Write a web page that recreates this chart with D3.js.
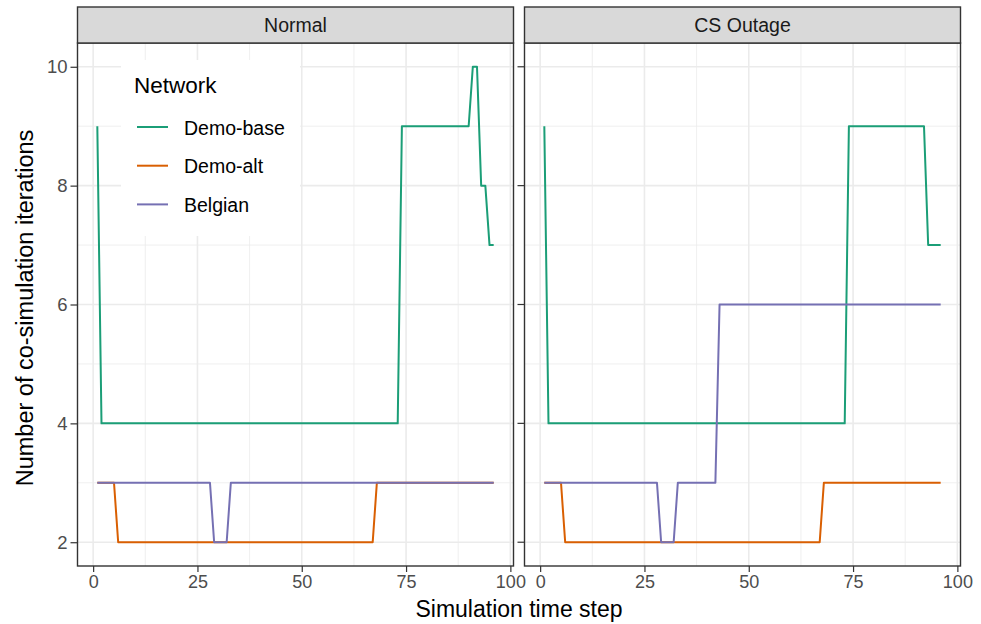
<!DOCTYPE html>
<html>
<head>
<meta charset="utf-8">
<script src="https://cdn.jsdelivr.net/npm/d3@7"></script>
<style>
    body { margin: 0; background: #fff; }
    text { font-family: "Liberation Sans", Arial, sans-serif; }
</style>
</head>
<body>
<svg id="chart" width="981" height="624"></svg>
<script>
// 資料: [時間步, 迭代次數] 折點
const panels = ["Normal", "CS Outage"];
const networks = ["Demo-base", "Demo-alt", "Belgian"];
const colors = ["#1B9E77", "#D95F02", "#7570B3"];

const normalBase = [[1, 9], [2, 4], [73, 4], [74, 9], [90, 9], [91, 10], [92, 10], [93, 8], [94, 8], [95, 7], [96, 7]];
const normalAlt = [[1, 3], [5, 3], [6, 2], [67, 2], [68, 3], [96, 3]];
const normalBelgian = [[1, 3], [28, 3], [29, 2], [32, 2], [33, 3], [96, 3]];

const outageBase = [[1, 9], [2, 4], [73, 4], [74, 9], [92, 9], [93, 7], [96, 7]];
const outageAlt = [[1, 3], [5, 3], [6, 2], [67, 2], [68, 3], [96, 3]];
const outageBelgian = [[1, 3], [28, 3], [29, 2], [32, 2], [33, 3], [42, 3], [43, 6], [96, 6]];

const xTicks = [0, 25, 50, 75, 100];
const xMinor = [12.5, 37.5, 62.5, 87.5];
const yTicks = [2, 4, 6, 8, 10];
const yMinor = [3, 5, 7, 9];

const panelData = [
    [normalBase, normalAlt, normalBelgian],
    [outageBase, outageAlt, outageBelgian]
];

const svg = d3.select("#chart");

const panelTop = 43, panelBottom = 566;
const stripTop = 7;
const panelX = [[77.5, 513.5], [524.5, 960.5]];

const y = d3.scaleLinear().domain([1.6, 10.4]).range([panelBottom, panelTop]);

panels.forEach((name, p) => {
    const x = d3.scaleLinear().domain([-3.75, 100.75]).range(panelX[p]);
    const g = svg.append("g");
    const left = panelX[p][0], right = panelX[p][1];

    // 格線
    g.selectAll(".xminor").data(xMinor).enter().append("line")
        .attr("x1", d => x(d)).attr("x2", d => x(d))
        .attr("y1", panelTop).attr("y2", panelBottom)
        .attr("stroke", "#ebebeb").attr("stroke-width", 0.8);
    g.selectAll(".yminor").data(yMinor).enter().append("line")
        .attr("x1", left).attr("x2", right)
        .attr("y1", d => y(d)).attr("y2", d => y(d))
        .attr("stroke", "#ebebeb").attr("stroke-width", 0.8);
    g.selectAll(".xmajor").data(xTicks).enter().append("line")
        .attr("x1", d => x(d)).attr("x2", d => x(d))
        .attr("y1", panelTop).attr("y2", panelBottom)
        .attr("stroke", "#ebebeb").attr("stroke-width", 1.6);
    g.selectAll(".ymajor").data(yTicks).enter().append("line")
        .attr("x1", left).attr("x2", right)
        .attr("y1", d => y(d)).attr("y2", d => y(d))
        .attr("stroke", "#ebebeb").attr("stroke-width", 1.6);

    // 折線
    const line = d3.line().x(d => x(d[0])).y(d => y(d[1]));
    panelData[p].forEach((series, i) => {
        g.append("path")
            .datum(series)
            .attr("fill", "none")
            .attr("stroke", colors[i])
            .attr("stroke-width", 2)
            .attr("stroke-linejoin", "round")
            .attr("d", line);
    });

    // 邊框
    g.append("rect")
        .attr("x", left).attr("y", panelTop)
        .attr("width", right - left).attr("height", panelBottom - panelTop)
        .attr("fill", "none").attr("stroke", "#333").attr("stroke-width", 1.4);

    // 標題條
    g.append("rect")
        .attr("x", left).attr("y", stripTop)
        .attr("width", right - left).attr("height", panelTop - stripTop)
        .attr("fill", "#d9d9d9").attr("stroke", "#333").attr("stroke-width", 1.4);
    g.append("text")
        .attr("x", (left + right) / 2).attr("y", (stripTop + panelTop) / 2 + 7)
        .attr("text-anchor", "middle")
        .attr("font-size", "19.5px")
        .attr("fill", "#1a1a1a")
        .text(name);

    // X 軸
    const xAxis = g.append("g")
        .attr("transform", `translate(0,${panelBottom})`)
        .call(d3.axisBottom(x).tickValues(xTicks).tickSize(6).tickPadding(3));
    xAxis.select(".domain").remove();
    xAxis.selectAll("line").attr("stroke", "#333").attr("stroke-width", 1.2);
    xAxis.selectAll("text").attr("font-size", "18px").attr("fill", "#4d4d4d")
        .style("font-family", "Liberation Sans, Arial, sans-serif");

    if (p === 0) {
        const yAxis = g.append("g")
            .attr("transform", `translate(${left},0)`)
            .call(d3.axisLeft(y).tickValues(yTicks).tickSize(7).tickPadding(3));
        yAxis.select(".domain").remove();
        yAxis.selectAll("line").attr("stroke", "#333").attr("stroke-width", 1.2);
        yAxis.selectAll("text").attr("font-size", "18.5px").attr("fill", "#4d4d4d")
            .style("font-family", "Liberation Sans, Arial, sans-serif");
    } else {
        g.selectAll(".ytick").data(yTicks).enter().append("line")
            .attr("x1", left - 7).attr("x2", left)
            .attr("y1", d => y(d)).attr("y2", d => y(d))
            .attr("stroke", "#333").attr("stroke-width", 1.2);
    }
});

// 軸標題
svg.append("text")
    .attr("x", 519).attr("y", 617)
    .attr("text-anchor", "middle")
    .attr("font-size", "23px")
    .attr("fill", "#000")
    .text("Simulation time step");

svg.append("text")
    .attr("transform", "translate(33,308) rotate(-90)")
    .attr("text-anchor", "middle")
    .attr("font-size", "23.5px")
    .attr("fill", "#000")
    .text("Number of co-simulation iterations");

// 圖例
const legend = svg.append("g").attr("transform", "translate(121,60)");
legend.append("rect")
    .attr("x", 0).attr("y", 0).attr("width", 179).attr("height", 176)
    .attr("fill", "#fff");
legend.append("text")
    .attr("x", 13).attr("y", 33)
    .attr("font-size", "22.5px")
    .attr("fill", "#000")
    .text("Network");
networks.forEach((n, i) => {
    const ly = 67 + i * 38.7;
    legend.append("line")
        .attr("x1", 16).attr("x2", 47)
        .attr("y1", ly).attr("y2", ly)
        .attr("stroke", colors[i]).attr("stroke-width", 2);
    legend.append("text")
        .attr("x", 63).attr("y", ly + 7.5)
        .attr("font-size", "19.5px")
        .attr("fill", "#000")
        .text(n);
});
</script>
</body>
</html>
